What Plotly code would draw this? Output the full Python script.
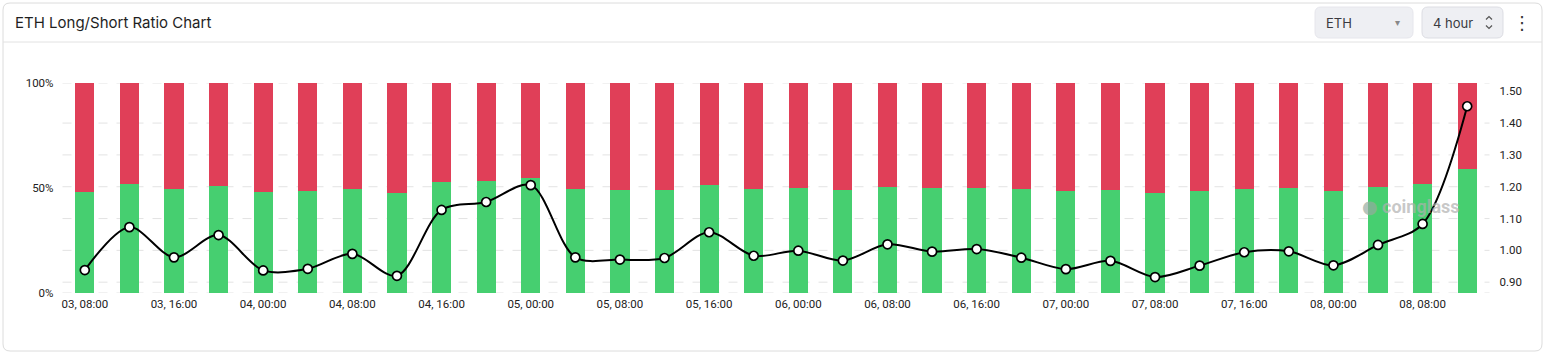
import plotly.graph_objects as go

# ---------------- data ----------------
bar_labels = [
    "03, 08:00", "03, 12:00", "03, 16:00", "03, 20:00",
    "04, 00:00", "04, 04:00", "04, 08:00", "04, 12:00",
    "04, 16:00", "04, 20:00", "05, 00:00", "05, 04:00",
    "05, 08:00", "05, 12:00", "05, 16:00", "05, 20:00",
    "06, 00:00", "06, 04:00", "06, 08:00", "06, 12:00",
    "06, 16:00", "06, 20:00", "07, 00:00", "07, 04:00",
    "07, 08:00", "07, 12:00", "07, 16:00", "07, 20:00",
    "08, 00:00", "08, 04:00", "08, 08:00", "08, 12:00",
]
long_pct = [
    48.3, 51.7, 49.4, 51.1, 48.3, 48.4, 49.7, 47.8,
    53.0, 53.5, 54.6, 49.4, 49.2, 49.2, 51.3, 49.5,
    49.8, 49.0, 50.3, 49.8, 50.0, 49.4, 48.4, 49.0,
    47.8, 48.6, 49.7, 49.8, 48.6, 50.3, 51.9, 59.0,
]
ls_ratio = [
    0.938, 1.073, 0.978, 1.048, 0.937, 0.942, 0.989, 0.920,
    1.127, 1.152, 1.205, 0.978, 0.971, 0.976, 1.057, 0.983,
    0.999, 0.968, 1.019, 0.996, 1.004, 0.977, 0.941, 0.967,
    0.916, 0.952, 0.994, 0.997, 0.953, 1.017, 1.083, 1.453,
]
short_pct = [round(100 - v, 1) for v in long_pct]
tick_labels = bar_labels[::2]
left_ticks = [0, 50, 100]
left_tick_text = ["0%", "50%", "100%"]
right_ticks = [0.9, 1.0, 1.1, 1.2, 1.3, 1.4, 1.5]

# ---------------- geometry helpers ----------------
W, H = 1546, 355
GREEN = "#46CF70"
RED = "#E03F58"
FONT = "Roboto"


def px(x):
    return x / W


def py(y):
    return 1 - y / H


def rrect(x0, y0, x1, y1, r):
    pts = [
        f"M {px(x0 + r)},{py(y0)}",
        f"L {px(x1 - r)},{py(y0)}",
        f"Q {px(x1)},{py(y0)} {px(x1)},{py(y0 + r)}",
        f"L {px(x1)},{py(y1 - r)}",
        f"Q {px(x1)},{py(y1)} {px(x1 - r)},{py(y1)}",
        f"L {px(x0 + r)},{py(y1)}",
        f"Q {px(x0)},{py(y1)} {px(x0)},{py(y1 - r)}",
        f"L {px(x0)},{py(y0 + r)}",
        f"Q {px(x0)},{py(y0)} {px(x0 + r)},{py(y0)}",
        "Z",
    ]
    return " ".join(pts)


fig = go.Figure()

fig.add_trace(go.Bar(
    x=bar_labels, y=long_pct, marker=dict(color=GREEN, line=dict(width=0)),
    name="Long", hoverinfo="skip",
))
fig.add_trace(go.Bar(
    x=bar_labels, y=short_pct, marker=dict(color=RED, line=dict(width=0)),
    name="Short", hoverinfo="skip",
))
fig.add_trace(go.Scatter(
    x=bar_labels, y=ls_ratio, yaxis="y2", mode="lines+markers",
    line=dict(color="#000000", width=2, shape="spline", smoothing=0.9),
    marker=dict(size=9, color="#ffffff", line=dict(color="#000000", width=1.7)),
    name="Ratio",
))

shapes = []
# card
shapes.append(dict(type="path", path=rrect(3, 3, 1542, 351, 7), xref="paper", yref="paper",
                   line=dict(color="#dcdcdc", width=1), fillcolor="rgba(0,0,0,0)", layer="below"))
# header separator
shapes.append(dict(type="line", xref="paper", yref="paper", x0=px(3), x1=px(1542), y0=py(42), y1=py(42),
                   line=dict(color="#e2e2e2", width=1)))
# buttons
shapes.append(dict(type="path", path=rrect(1315, 7, 1413, 38, 6), xref="paper", yref="paper",
                   line=dict(color="#e6e6ec", width=1), fillcolor="#eeeff3"))
shapes.append(dict(type="path", path=rrect(1422, 7, 1503, 38, 6), xref="paper", yref="paper",
                   line=dict(color="#dcdde3", width=1), fillcolor="#eeeff3"))
# chevrons in the "4 hour" button
shapes.append(dict(type="path", xref="paper", yref="paper",
                   path=f"M {px(1486)},{py(19.5)} L {px(1489)},{py(16.5)} L {px(1492)},{py(19.5)}",
                   line=dict(color="#555", width=1.2)))
shapes.append(dict(type="path", xref="paper", yref="paper",
                   path=f"M {px(1486)},{py(25.5)} L {px(1489)},{py(28.5)} L {px(1492)},{py(25.5)}",
                   line=dict(color="#555", width=1.2)))
# grid lines
for v in [0, 100]:
    shapes.append(dict(type="line", xref="x domain", yref="y", x0=0, x1=1, y0=v, y1=v,
                       line=dict(color="#e3e3e3", width=1, dash="dash"), layer="below"))
for v in right_ticks[:-1]:
    shapes.append(dict(type="line", xref="x domain", yref="y2", x0=0, x1=1, y0=v, y1=v,
                       line=dict(color="#e3e3e3", width=1, dash="dash"), layer="below"))

annotations = [
    dict(text="ETH Long/Short Ratio Chart", x=px(13), y=py(22), xref="paper", yref="paper",
         xanchor="left", yanchor="middle", showarrow=False,
         font=dict(family="Inter", size=15, color="#1f1f1f")),
    dict(text="ETH", x=px(1324), y=py(22.5), xref="paper", yref="paper",
         xanchor="left", yanchor="middle", showarrow=False,
         font=dict(family="Inter", size=13, color="#3a3a40")),
    dict(text="▾", x=px(1397), y=py(22), xref="paper", yref="paper",
         xanchor="center", yanchor="middle", showarrow=False,
         font=dict(family="DejaVu Sans", size=10, color="#888")),
    dict(text="4 hour", x=px(1431), y=py(22.5), xref="paper", yref="paper",
         xanchor="left", yanchor="middle", showarrow=False,
         font=dict(family="Inter", size=13, color="#3a3a40")),
    dict(text="⋮", x=px(1522), y=py(22), xref="paper", yref="paper",
         xanchor="center", yanchor="middle", showarrow=False,
         font=dict(family="DejaVu Sans", size=18, color="#333")),
    dict(text="<b>coinglass</b>", x=px(1380), y=py(206), xref="paper", yref="paper",
         xanchor="left", yanchor="middle", showarrow=False,
         font=dict(family="Roboto", size=18, color="rgba(175,175,175,0.7)")),
    dict(text="●", x=px(1370), y=py(206), xref="paper", yref="paper",
         xanchor="center", yanchor="middle", showarrow=False,
         font=dict(family="DejaVu Sans", size=18, color="rgba(150,170,160,0.7)")),
]

fig.update_layout(
    width=W, height=H,
    margin=dict(l=0, r=0, t=0, b=0, pad=0, autoexpand=False),
    paper_bgcolor="#ffffff", plot_bgcolor="rgba(0,0,0,0)",
    barmode="stack", bargap=0.57,
    showlegend=False,
    shapes=shapes, annotations=annotations,
    xaxis=dict(
        domain=[px(62.5), px(1489.5)], type="category", automargin=False,
        range=[-0.5, len(bar_labels) - 0.5],
        tickmode="array", tickvals=tick_labels, ticktext=tick_labels,
        showgrid=False, zeroline=False, showline=False, ticks="",
        tickfont=dict(family=FONT, size=11.5, color="#222"),
        ticklabelstandoff=2,
    ),
    yaxis=dict(
        domain=[py(293), py(83)], range=[0, 100], automargin=False,
        tickmode="array", tickvals=left_ticks, ticktext=left_tick_text,
        showgrid=False, zeroline=False, showline=False, ticks="",
        tickfont=dict(family=FONT, size=11.5, color="#222"),
        ticklabelstandoff=8,
    ),
    yaxis2=dict(
        overlaying="y", side="right", range=[0.866, 1.526], automargin=False,
        tickmode="array", tickvals=right_ticks,
        ticktext=[f"{v:.2f}" for v in right_ticks],
        showgrid=False, zeroline=False, showline=False, ticks="",
        tickfont=dict(family=FONT, size=11.5, color="#222"),
        ticklabelstandoff=9,
    ),
)

fig.write_html(
    "out.html",
    config={"displayModeBar": False},
    post_script="document.body.style.margin='0';document.body.style.overflow='hidden';",
)
